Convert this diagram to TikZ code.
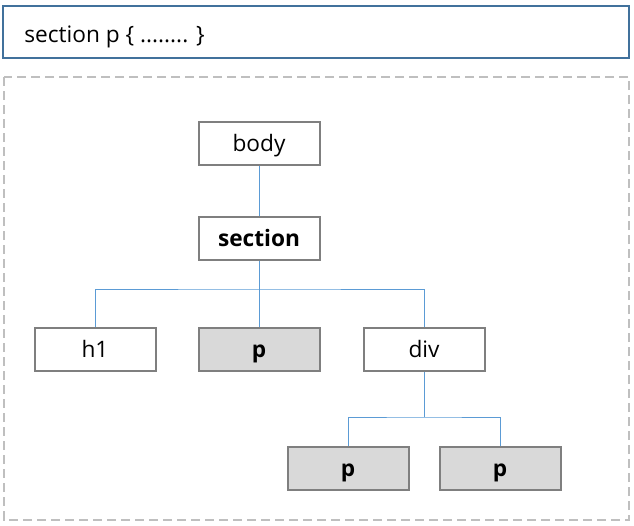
\documentclass[tikz,border=0pt]{standalone}
\usepackage{fontspec}
\setmainfont{Open Sans}
\usetikzlibrary{positioning}
\definecolor{headblue}{HTML}{41719C}
\definecolor{linkblue}{HTML}{5B9BD5}
\definecolor{boxgray}{HTML}{7F7F7F}
\definecolor{dashgray}{HTML}{BFBFBF}
\definecolor{selfill}{HTML}{D9D9D9}
\tikzset{
  tag/.style={draw=boxgray, line width=1.5pt, fill=white, minimum width=90.75pt, minimum height=32.25pt, inner sep=0pt, text height=15pt, text depth=3pt, font=\fontsize{17}{20}\selectfont},
  chosen/.style={tag, fill=selfill, font=\fontsize{17}{20}\selectfont\bfseries},
  link/.style={draw=linkblue, line width=0.75pt}
}

\begin{document}
\begin{tikzpicture}[x=0.75pt, y=-0.75pt]
		%%%%% START %%%%%
		\useasboundingbox (0, 0) rectangle (634, 525);
		
		\draw[line width=1.5pt, color=headblue] (3, 6) rectangle (629, 58);
		\node[anchor=base west, inner sep=0pt, font=\fontsize{17}{20}\selectfont] (rule) at (24, 42) {section p \{ ........ \}};
		
		\draw[line width=1.5pt, color=dashgray, dash pattern=on 7pt off 3.5pt] (4, 77) rectangle (629, 520);
		
		\node[tag] (body) at (259, 143.5) {body};
		\node[tag, font=\fontsize{17}{20}\selectfont\bfseries] (sec) at (259, 238) {section};
		
		\node[tag] (h1) at (95, 349) {h1};
		\node[chosen] (p) at (259, 349) {p};
		\node[tag] (div) at (424, 349) {div};
		
		\node[chosen] (pa) at (348, 468.5) {p};
		\node[chosen] (pb) at (500, 468.5) {p};
		
		\coordinate (bus1) at (0, 289);
		\coordinate (bus2) at (0, 417);
		
		\draw[link] (body) -- (sec);
		\draw[link] (sec) -- (p);
		\draw[link] (h1.north) |- (p.north |- bus1) -| (div.north);
		\draw[link] (div) -- (div.south |- bus2);
		\draw[link] (pa.north) |- (div.south |- bus2) -| (pb.north);
		
		%%%%% END %%%%%
	\end{tikzpicture}
\end{document}
